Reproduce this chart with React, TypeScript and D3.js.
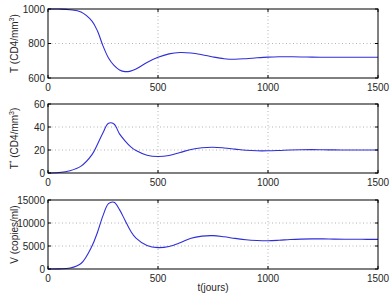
import React from "react";
import * as d3 from "d3";

// temps (jours)
const tDays = [0, 50, 100, 150, 200, 225, 250, 275, 300, 325, 350, 375, 400, 450, 500, 550, 600, 650, 700, 750, 800, 850, 900, 950, 1000, 1050, 1100, 1150, 1200, 1250, 1300, 1350, 1400, 1450, 1500];
// cellules T saines
const tCells = [1000, 999.6, 996, 983, 930, 872, 786, 716, 673, 647, 637, 640, 652, 690, 720, 740, 748, 745, 735, 722, 712, 709, 712, 717, 721, 723, 723, 722, 721, 720, 720, 720, 720, 720, 720];
// cellules T infectées
const tStar = [0, 0.4, 2, 6, 16, 25, 35, 43.2, 42.6, 34, 28, 23, 19.5, 15.5, 14.3, 15.2, 17.8, 20.5, 22, 22.4, 21.8, 20.8, 19.8, 19.3, 19.3, 19.6, 20, 20.2, 20.3, 20.2, 20.1, 20, 20, 20, 20];
// virus
const virus = [0, 30, 200, 1200, 5000, 8000, 11600, 14200, 14500, 12900, 10600, 8300, 6700, 5100, 4650, 4900, 5700, 6700, 7150, 7250, 7000, 6650, 6350, 6200, 6150, 6250, 6400, 6500, 6550, 6550, 6500, 6480, 6460, 6450, 6450];

const xTicks = [0, 500, 1000, 1500];

const panels = [
  { values: tCells, domain: [600, 1000], ticks: [600, 800, 1000], top: 9, label: "T", star: false, unit: " (CD4/mm", sup: "3" },
  { values: tStar, domain: [0, 60], ticks: [0, 20, 40, 60], top: 104, label: "T", star: true, unit: " (CD4/mm", sup: "3" },
  { values: virus, domain: [0, 15000], ticks: [0, 5000, 10000, 15000], top: 200, label: "V (copies/ml)", star: false, unit: "", sup: "" },
];

const left = 48;
const right = 378;
const h = 69;
const font = "Liberation Sans, Arial, sans-serif";
const textColor = "#262626";

export default function App() {
  const x = d3.scaleLinear().domain([0, 1500]).range([left, right]);

  return (
    <svg width={392} height={300} style={{ position: "absolute", left: 0, top: 0, background: "#fff" }} fontFamily={font}>
      {panels.map((p, i) => {
        const y = d3.scaleLinear().domain(p.domain).range([p.top + h, p.top]);
        const line = d3
          .line<number>()
          .x((_, j) => x(tDays[j]))
          .y((d) => y(d))
          .curve(d3.curveCatmullRom.alpha(0.5));
        const cy = p.top + h / 2;
        return (
          <g key={i}>
            {/* grille */}
            {xTicks.slice(1, -1).map((t) => (
              <line key={"gx" + t} x1={x(t)} x2={x(t)} y1={p.top} y2={p.top + h} stroke="#a0a0a0" strokeWidth={0.8} strokeDasharray="1,2.5" />
            ))}
            {p.ticks.slice(1, -1).map((v) => (
              <line key={"gy" + v} x1={left} x2={right} y1={y(v)} y2={y(v)} stroke="#a0a0a0" strokeWidth={0.8} strokeDasharray="1,2.5" />
            ))}
            {/* courbe */}
            <path d={line(p.values) || ""} fill="none" stroke="#2e2ed8" strokeWidth={1.1} />
            {/* cadre */}
            <rect x={left} y={p.top} width={right - left} height={h} fill="none" stroke="#000" strokeWidth={1} />
            {/* graduations */}
            {xTicks.map((t) => (
              <g key={"tx" + t}>
                <line x1={x(t)} x2={x(t)} y1={p.top + h} y2={p.top + h - 3} stroke="#000" />
                <line x1={x(t)} x2={x(t)} y1={p.top} y2={p.top + 3} stroke="#000" />
                <text x={x(t)} y={p.top + h + 13} textAnchor="middle" fontSize={10} fill={textColor}>
                  {t}
                </text>
              </g>
            ))}
            {p.ticks.map((v) => (
              <g key={"ty" + v}>
                <line x1={left} x2={left + 3} y1={y(v)} y2={y(v)} stroke="#000" />
                <line x1={right} x2={right - 3} y1={y(v)} y2={y(v)} stroke="#000" />
                <text x={left - 3} y={y(v)} dy="0.35em" textAnchor="end" fontSize={10} fill={textColor}>
                  {v}
                </text>
              </g>
            ))}
            {/* titre de l'axe y */}
            <text transform={`translate(18,${cy}) rotate(-90)`} textAnchor="middle" fontSize={10} fill={textColor}>
              {p.label}
              {p.star && (
                <tspan fontSize={7} dy={-4}>
                  *
                </tspan>
              )}
              {p.unit && (
                <tspan dy={p.star ? 4 : 0}>{p.unit}</tspan>
              )}
              {p.sup && (
                <tspan fontSize={7} dy={-4}>
                  {p.sup}
                </tspan>
              )}
              {p.sup && <tspan dy={4}>)</tspan>}
            </text>
          </g>
        );
      })}
      <text x={(left + right) / 2} y={291} textAnchor="middle" fontSize={10} fill={textColor}>
        t(jours)
      </text>
    </svg>
  );
}
